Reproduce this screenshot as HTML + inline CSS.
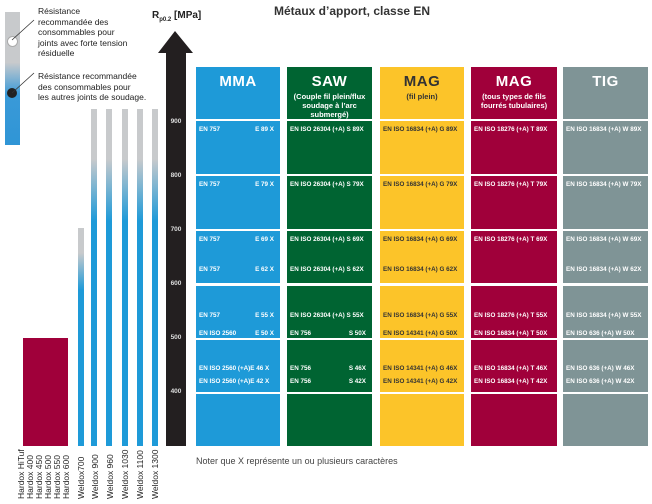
<!DOCTYPE html>
<html><head><meta charset="utf-8"><style>
body{margin:0;background:#fff;}
#c{position:relative;width:652px;height:504px;overflow:hidden;font-family:"Liberation Sans",sans-serif;}
.a{position:absolute;}
.col{position:absolute;}
.h{position:absolute;color:#fff;text-align:center;}
.h b{display:block;font-size:15px;margin-top:6px;letter-spacing:0.5px}
.h span{display:block;font-size:7.5px;font-weight:bold;line-height:9px;margin-top:2px}
.cell{position:absolute;}
.t{position:absolute;font-size:6.3px;font-weight:bold;color:#fff;white-space:nowrap;}
.r{position:absolute;font-size:8.5px;color:#222;white-space:nowrap;transform-origin:0 0;transform:rotate(-90deg);}
.tk{position:absolute;left:167px;width:18px;text-align:center;font-size:6.5px;color:#ddd;font-weight:bold;}
.wb{position:absolute;width:6px;}
</style></head><body><div id="c">
<!-- legend bar -->
<div class="a" style="left:5px;top:12px;width:15px;height:133px;background:linear-gradient(#c8cacc 0%,#c8cacc 38%,#3a9ad8 62%,#2f95d6 100%)"></div>
<div class="a" style="left:7px;top:36px;width:9px;height:9px;border-radius:50%;background:#fff;border:1px solid #aaa"></div>
<div class="a" style="left:7px;top:88px;width:10px;height:10px;border-radius:50%;background:#222"></div>
<svg class="a" style="left:0;top:0" width="60" height="110"><line x1="12" y1="40" x2="34" y2="20" stroke="#333" stroke-width="0.8"/><line x1="12" y1="93" x2="34" y2="73" stroke="#333" stroke-width="0.8"/></svg>
<div class="a" style="left:38px;top:6px;font-size:8.5px;line-height:10.5px;color:#222">Résistance<br>recommandée des<br>consommables pour<br>joints avec forte tension<br>résiduelle</div>
<div class="a" style="left:38px;top:71px;font-size:8.5px;line-height:10.5px;color:#222">Résistance recommandée<br>des consommables pour<br>les autres joints de soudage.</div>
<!-- titles -->
<div class="a" style="left:152px;top:10px;font-size:10px;font-weight:bold;color:#222">R<sub style="font-size:6px">p0.2</sub> [MPa]</div>
<div class="a" style="left:274px;top:4px;font-size:12px;font-weight:bold;color:#333">Métaux d’apport, classe EN</div>
<!-- arrow -->
<svg class="a" style="left:0;top:0" width="200" height="450"><polygon points="175,31 193,53 186,53 186,446 166,446 166,53 158,53" fill="#231f20"/></svg>
<div class="tk" style="top:118px">900</div><div class="tk" style="top:172px">800</div><div class="tk" style="top:226px">700</div><div class="tk" style="top:280px">600</div><div class="tk" style="top:334px">500</div><div class="tk" style="top:388px">400</div>
<!-- hardox -->
<div class="a" style="left:23px;top:338px;width:45px;height:108px;background:#a0003a"></div>
<!-- weldox -->
<div class="wb" style="left:78px;top:228px;height:218px;background:linear-gradient(#c8cacc 0,#c8cacc 25px,#1e9ad8 62px,#1e9ad8 100%)"></div>
<div class="wb" style="left:91px;top:109px;height:337px;background:linear-gradient(#c8cacc 0,#c8cacc 50px,#1e9ad8 112px,#1e9ad8 100%)"></div>
<div class="wb" style="left:106px;top:109px;height:337px;background:linear-gradient(#c8cacc 0,#c8cacc 50px,#1e9ad8 112px,#1e9ad8 100%)"></div>
<div class="wb" style="left:122px;top:109px;height:337px;background:linear-gradient(#c8cacc 0,#c8cacc 50px,#1e9ad8 112px,#1e9ad8 100%)"></div>
<div class="wb" style="left:137px;top:109px;height:337px;background:linear-gradient(#c8cacc 0,#c8cacc 50px,#1e9ad8 112px,#1e9ad8 100%)"></div>
<div class="wb" style="left:152px;top:109px;height:337px;background:linear-gradient(#c8cacc 0,#c8cacc 50px,#1e9ad8 112px,#1e9ad8 100%)"></div>
<!-- rotated labels -->
<div class="r" style="left:16px;top:499px">Hardox HiTuf</div>
<div class="r" style="left:25px;top:499px">Hardox 400</div>
<div class="r" style="left:34px;top:499px">Hardox 450</div>
<div class="r" style="left:43px;top:499px">Hardox 500</div>
<div class="r" style="left:52px;top:499px">Hardox 550</div>
<div class="r" style="left:61px;top:499px">Hardox 600</div>
<div class="r" style="left:76px;top:499px">Weldox700</div>
<div class="r" style="left:90px;top:499px">Weldox 900</div>
<div class="r" style="left:105px;top:499px">Weldox 960</div>
<div class="r" style="left:120px;top:499px">Weldox 1030</div>
<div class="r" style="left:135px;top:499px">Weldox 1100</div>
<div class="r" style="left:150px;top:499px">Weldox 1300</div>
<!-- columns -->
<div id="cols"></div>
<div class="a" style="left:196px;top:456px;font-size:9px;color:#444">Noter que X représente un ou plusieurs caractères</div>
<script>
var cols=[[196,84,'#1e9ad8','MMA',''],[287,85,'#006432','SAW','(Couple fil plein/flux<br>soudage à l’arc<br>submergé)'],[380,84,'#fcc429','MAG','(fil plein)'],[471,86,'#a0003a','MAG','(tous types de fils<br>fourrés tubulaires)'],[563,85,'#7f9496','TIG','']];
var rows=[[121,174],[176,229],[231,283],[286,338],[340,392],[394,446]];
var txt=[
[[['EN 757','E 89 X',126]],[['EN 757','E 79 X',181]],[['EN 757','E 69 X',236],['EN 757','E 62 X',266]],[['EN 757','E 55 X',312],['EN ISO 2560','E 50 X',330]],[['EN ISO 2560 (+A)E 46 X','',365],['EN ISO 2560 (+A)E 42 X','',378]]],
[[['EN ISO 26304 (+A) S 89X','',126]],[['EN ISO 26304 (+A) S 79X','',181]],[['EN ISO 26304 (+A) S 69X','',236],['EN ISO 26304 (+A) S 62X','',266]],[['EN ISO 26304 (+A) S 55X','',312],['EN 756','S 50X',330]],[['EN 756','S 46X',365],['EN 756','S 42X',378]]],
[[['EN ISO 16834 (+A) G 89X','',126]],[['EN ISO 16834 (+A) G 79X','',181]],[['EN ISO 16834 (+A) G 69X','',236],['EN ISO 16834 (+A) G 62X','',266]],[['EN ISO 16834 (+A) G 55X','',312],['EN ISO 14341 (+A) G 50X','',330]],[['EN ISO 14341 (+A) G 46X','',365],['EN ISO 14341 (+A) G 42X','',378]]],
[[['EN ISO 18276 (+A) T 89X','',126]],[['EN ISO 18276 (+A) T 79X','',181]],[['EN ISO 18276 (+A) T 69X','',236]],[['EN ISO 18276 (+A) T 55X','',312],['EN ISO 16834 (+A) T 50X','',330]],[['EN ISO 16834 (+A) T 46X','',365],['EN ISO 16834 (+A) T 42X','',378]]],
[[['EN ISO 16834 (+A) W 89X','',126]],[['EN ISO 16834 (+A) W 79X','',181]],[['EN ISO 16834 (+A) W 69X','',236],['EN ISO 16834 (+A) W 62X','',266]],[['EN ISO 16834 (+A) W 55X','',312],['EN ISO 636 (+A) W 50X','',330]],[['EN ISO 636 (+A) W 46X','',365],['EN ISO 636 (+A) W 42X','',378]]]];
var h='';
cols.forEach(function(c,i){
 var fg=i==2?'#333':'#fff';
 h+='<div class="h" style="left:'+c[0]+'px;top:67px;width:'+c[1]+'px;height:52px;background:'+c[2]+';color:'+fg+'"><b>'+c[3]+'</b><span>'+c[4]+'</span></div>';
 if(i==3){
  h+='<div class="cell" style="left:'+c[0]+'px;top:121px;width:'+c[1]+'px;height:108px;background:'+c[2]+'"></div>';
  h+='<div class="cell" style="left:'+c[0]+'px;top:231px;width:'+c[1]+'px;height:215px;background:'+c[2]+'"></div>';
  h+='<div class="cell" style="left:'+c[0]+'px;top:174px;width:'+c[1]+'px;height:2px;background:#fff"></div>';
  h+='<div class="cell" style="left:'+c[0]+'px;top:338px;width:'+c[1]+'px;height:2px;background:#fff"></div>';
  h+='<div class="cell" style="left:'+c[0]+'px;top:392px;width:'+c[1]+'px;height:2px;background:#fff"></div>';
  h+='<div class="cell" style="left:'+c[0]+'px;top:283px;width:'+c[1]+'px;height:3px;background:#fff"></div>';
  h+='<div class="cell" style="left:'+c[0]+'px;top:229px;width:'+c[1]+'px;height:2px;background:#fff"></div>';
 } else rows.forEach(function(r){h+='<div class="cell" style="left:'+c[0]+'px;top:'+r[0]+'px;width:'+c[1]+'px;height:'+(r[1]-r[0])+'px;background:'+c[2]+'"></div>';});
 txt[i].forEach(function(rr){rr.forEach(function(t){
  h+='<div class="t" style="left:'+(c[0]+3)+'px;top:'+t[2]+'px;color:'+fg+'">'+t[0]+'</div>';
  if(t[1])h+='<div class="t" style="left:'+c[0]+'px;width:'+(c[1]-6)+'px;text-align:right;top:'+t[2]+'px;color:'+fg+'">'+t[1]+'</div>';
 });});
});
document.getElementById('cols').innerHTML=h;
</script>
</div></body></html>
